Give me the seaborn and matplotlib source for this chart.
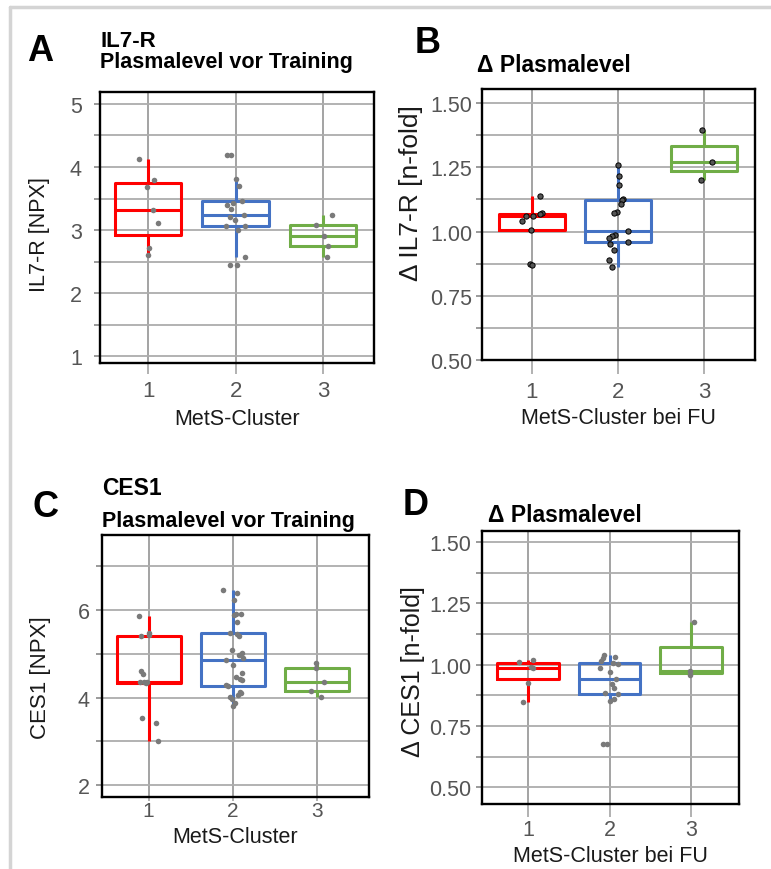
import numpy as np
import pandas as pd
import matplotlib
matplotlib.use("Agg")
import matplotlib.pyplot as plt
import seaborn as sns
from matplotlib.ticker import MultipleLocator, FormatStrFormatter
from matplotlib.lines import Line2D

# ---- data -----------------------------------------------------------------
clusters = ["1", "2", "3"]

# IL7-R plasma level before training [NPX]
il7r_pre_c1 = [4.12, 3.80, 3.68, 3.32, 3.11, 2.72, 2.61]
il7r_pre_c2 = [4.19, 4.19, 3.81, 3.70, 3.46, 3.43, 3.39, 3.34, 3.24, 3.21,
               3.16, 3.07, 3.07, 3.00, 2.57, 2.44, 2.44]
il7r_pre_c3 = [3.24, 3.08, 2.90, 2.74, 2.57]

# IL7-R change [n-fold], cluster at follow-up
il7r_delta_c1 = [1.138, 1.072, 1.068, 1.062, 1.060, 1.040, 1.005, 0.875, 0.870]
il7r_delta_c2 = [1.259, 1.215, 1.183, 1.127, 1.121, 1.108, 1.078, 1.071, 1.004,
                 0.988, 0.982, 0.975, 0.959, 0.951, 0.930, 0.889, 0.862]
il7r_delta_c3 = [1.395, 1.272, 1.202]

# CES1 plasma level before training [NPX]
ces1_pre_c1 = [5.87, 5.47, 5.43, 5.40, 4.62, 4.55, 4.37, 4.36, 4.35, 4.33,
               3.53, 3.42, 3.01]
ces1_pre_c2 = [6.46, 6.39, 6.24, 5.91, 5.91, 5.89, 5.73, 5.47, 5.45, 5.42,
               5.08, 5.02, 4.97, 4.91, 4.86, 4.75, 4.57, 4.48, 4.43, 4.40,
               4.29, 4.27, 4.13, 4.10, 4.06, 4.01, 3.97, 3.88, 3.82]
ces1_pre_c3 = [4.79, 4.67, 4.35, 4.16, 4.01]

# CES1 change [n-fold], cluster at follow-up
ces1_delta_c1 = [1.019, 1.012, 0.992, 0.985, 0.927, 0.849]
ces1_delta_c2 = [1.040, 1.030, 1.026, 1.016, 1.006, 1.003, 0.986, 0.969, 0.942,
                 0.921, 0.904, 0.886, 0.881, 0.862, 0.852, 0.675, 0.675]
ces1_delta_c3 = [1.172, 0.976, 0.956]

palette = {"1": "#FF0000", "2": "#4472C4", "3": "#70AD47"}

W, H = 771, 870


def frame(groups):
    return pd.DataFrame({
        "cluster": np.repeat(clusters, [len(g) for g in groups]),
        "value": np.concatenate([np.asarray(g, float) for g in groups]),
    })


def rect(left, top, right, bottom):
    return [left / W, 1 - bottom / H, (right - left) / W, (bottom - top) / H]


sns.set_theme(style="white")
FONT = ["Liberation Sans", "DejaVu Sans"]
plt.rcParams["font.family"] = FONT

fig = plt.figure(figsize=(W / 100, H / 100), dpi=100)
fig.patch.set_facecolor("white")

panels = [
    dict(groups=[il7r_pre_c1, il7r_pre_c2, il7r_pre_c3],
         rect=rect(100, 93, 374, 364), xlim=(-0.55, 2.58), ylim=(0.89, 5.19),
         major=1, minor=0.5, fmt="%d", ylabel="IL7-R [NPX]", ylsize=15.5,
         xlabel="MetS-Cluster", ylab_xy=(-0.182, 0.476), xlab_y=-0.165,
         ytpad=9, xtpad=4, xtlen=8, xtsize=16,
         pt=dict(color="#7a7a7a", size=4.0, linewidth=0)),
    dict(groups=[il7r_delta_c1, il7r_delta_c2, il7r_delta_c3],
         rect=rect(482, 90, 755, 361), xlim=(-0.58, 2.59), ylim=(0.5, 1.555),
         major=0.25, minor=0.125, fmt="%.2f", ylabel="Δ IL7-R [n-fold]",
         ylsize=19,
         xlabel="MetS-Cluster bei FU", ylab_xy=(-0.216, 0.62), xlab_y=-0.172,
         ytpad=3, xtpad=5, xtlen=10, xtsize=16,
         pt=dict(color="#555555", size=3.8, linewidth=0.7, edgecolor="black")),
    dict(groups=[ces1_pre_c1, ces1_pre_c2, ces1_pre_c3],
         rect=rect(102, 536, 369, 798), xlim=(-0.555, 2.62), ylim=(1.73, 7.72),
         major=2, minor=1, fmt="%d", ylabel="CES1 [NPX]", ylsize=16,
         xlabel="MetS-Cluster", ylab_xy=(-0.19, 0.46), xlab_y=-0.112,
         ytpad=5, xtpad=0, xtlen=3, xtsize=15,
         pt=dict(color="#7a7a7a", size=4.0, linewidth=0)),
    dict(groups=[ces1_delta_c1, ces1_delta_c2, ces1_delta_c3],
         rect=rect(482, 532, 739, 805), xlim=(-0.566, 2.59), ylim=(0.432, 1.545),
         major=0.25, minor=0.125, fmt="%.2f", ylabel="Δ CES1 [n-fold]",
         ylsize=18,
         xlabel="MetS-Cluster bei FU", ylab_xy=(-0.222, 0.49), xlab_y=-0.152,
         ytpad=3.5, xtpad=2, xtlen=9, xtsize=15.5,
         pt=dict(color="#7a7a7a", size=4.0, linewidth=0)),
]

for i, p in enumerate(panels):
    ax = fig.add_axes(p["rect"])
    df = frame(p["groups"])
    sns.boxplot(data=df, x="cluster", y="value", hue="cluster",
                palette=palette, fill=False, width=0.76, linewidth=2.2,
                showcaps=False, showfliers=False, legend=False, ax=ax)
    np.random.seed(7 + i)
    sns.stripplot(data=df, x="cluster", y="value", jitter=0.12,
                  ax=ax, zorder=4, **p["pt"])

    ax.set_xlim(*p["xlim"])
    ax.set_ylim(*p["ylim"])
    ax.yaxis.set_major_locator(MultipleLocator(p["major"]))
    ax.yaxis.set_minor_locator(MultipleLocator(p["minor"]))
    ax.yaxis.set_major_formatter(FormatStrFormatter(p["fmt"]))

    ax.set_axisbelow(True)
    ax.grid(True, which="both", axis="y", color="#adadad", linewidth=1.3)
    ax.grid(True, which="major", axis="x", color="#9c9c9c", linewidth=1.3)

    for s in ax.spines.values():
        s.set_visible(True)
        s.set_color("black")
        s.set_linewidth(1.7)

    ax.tick_params(axis="y", which="both", left=True, length=4, width=1.1,
                   color="#7f7f7f", pad=p["ytpad"], labelsize=15.5,
                   labelcolor="#555555")
    ax.tick_params(axis="y", which="minor", labelleft=False)
    ax.tick_params(axis="x", which="major", bottom=True, length=p["xtlen"],
                   width=1.1, color="#9c9c9c", pad=p["xtpad"],
                   labelsize=p["xtsize"], labelcolor="#555555")

    ax.set_ylabel(p["ylabel"], fontsize=p["ylsize"], color="#1a1a1a")
    ax.set_xlabel(p["xlabel"], fontsize=15.5, color="#1a1a1a", va="top")
    ax.yaxis.set_label_coords(*p["ylab_xy"])
    ax.xaxis.set_label_coords(0.5, p["xlab_y"])


def ftext(x, y, s, **kw):
    fig.text(x / W, 1 - y / H, s, va="baseline", **kw)


letter = dict(fontsize=26, fontweight="bold", ha="center", color="black")
head = dict(fontsize=15.5, fontweight="bold", ha="left", color="black")
delta_head = dict(head, fontsize=16.5)

ftext(40, 61, "A", **letter)
ftext(100, 47, "IL7-R", **dict(head, fontsize=16))
ftext(100, 68, "Plasmalevel vor Training", **head)

ftext(428, 53, "B", **letter)
ftext(477, 72, "Δ Plasmalevel", **delta_head)

ftext(46, 517, "C", **letter)
ftext(102, 495, "CES1", **dict(head, fontsize=16.5))
ftext(102, 527, "Plasmalevel vor Training", **head)

ftext(416, 515, "D", **letter)
ftext(488, 522, "Δ Plasmalevel", **delta_head)

# light frame along the top and left edge
fig.add_artist(Line2D([10 / W, 10 / W], [1 - 8 / H, 0], color="#d4d4d4",
                      linewidth=2.5, transform=fig.transFigure))
fig.add_artist(Line2D([10 / W, 1], [1 - 8 / H, 1 - 8 / H], color="#d4d4d4",
                      linewidth=2.5, transform=fig.transFigure))

fig.savefig("out.png", dpi=100)
